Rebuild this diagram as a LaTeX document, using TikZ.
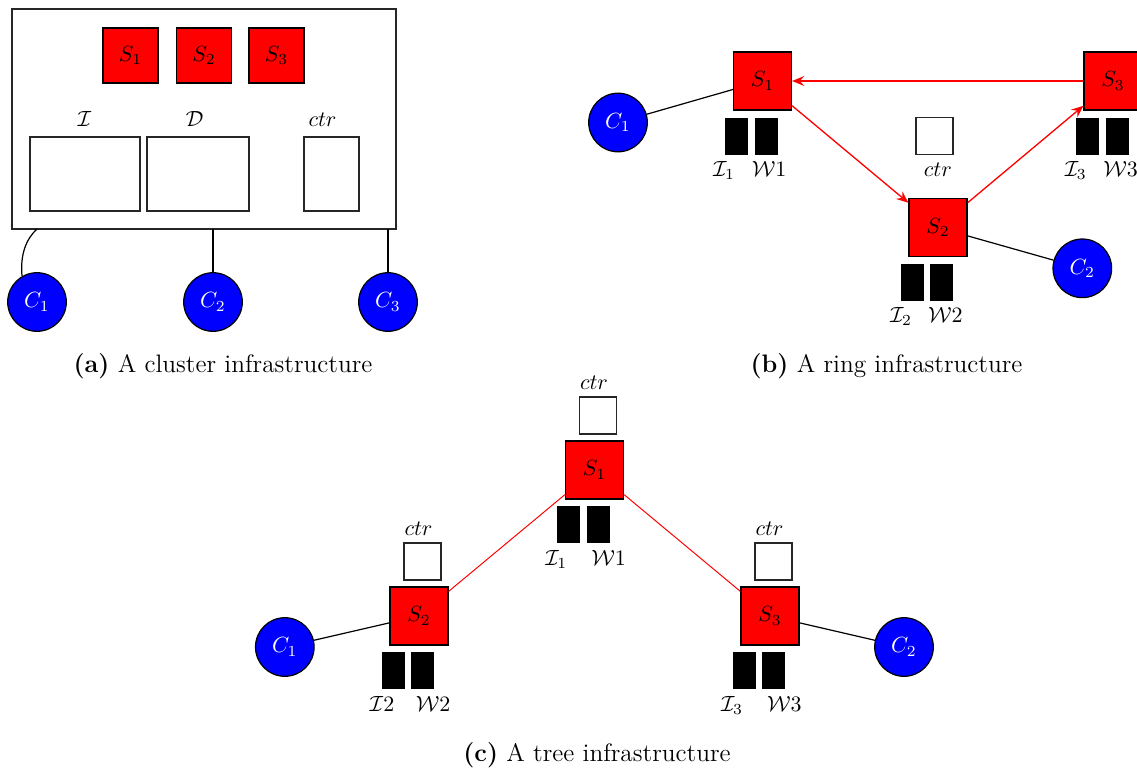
\documentclass[tikz,border=0pt]{standalone}
\usetikzlibrary{arrows.meta}
\newlength\px
\setlength\px{0.455pt}
\tikzset{
  srv/.style={draw=black, fill=red, line width=0.55pt, inner sep=0pt, minimum size=58\px},
  srva/.style={srv, minimum size=55\px},
  cli/.style={circle, draw=black, fill=blue, line width=0.55pt, inner sep=0pt, minimum size=58.6\px, text=white},
  wbox/.style={draw=black!85, fill=white, line width=0.5pt, inner sep=0pt},
  ctrbox/.style={wbox, minimum size=37\px},
  bar/.style={fill=black, inner sep=0pt, minimum width=23\px, minimum height=37\px},
  lbl/.style={anchor=base, inner sep=0pt},
  captxt/.style={anchor=base, inner sep=0pt, font=\fontsize{11.5}{13.8}\selectfont},
  bk/.style={draw=black, line width=0.55pt},
  rarr/.style={draw=red, line width=0.6pt, -{Stealth[length=5.5pt, width=4.5pt, inset=2pt]}},
  rl/.style={draw=red, line width=0.45pt}
}
\begin{document}
\begin{tikzpicture}[x=0.455pt, y=-0.455pt]
\useasboundingbox (0,0) rectangle (1137,769);

% ---------- (a) cluster ----------
\node[wbox, minimum width=384\px, minimum height=220\px] (clus) at (204,119) {};
\node[srva] (aS1) at (130.5,55.5) {$S_1$};
\node[srva] (aS2) at (204,55.5) {$S_2$};
\node[srva] (aS3) at (276.5,55.5) {$S_3$};
\node[lbl] (aIl) at (84.5,126.5) {$\mathcal{I}$};
\node[lbl] (aDl) at (194.7,126.5) {$\mathcal{D}$};
\node[lbl] (aCl) at (322.5,126.5) {$ctr$};
\node[wbox, minimum width=110\px, minimum height=74\px] (aI) at (85,174) {};
\node[wbox, minimum width=102\px, minimum height=74\px] (aD) at (198,174) {};
\node[wbox, minimum width=55\px, minimum height=74\px] (aC) at (331.5,174) {};
\node[cli] (aC1) at (37,302) {$C_1$};
\node[cli] (aC2) at (213,302) {$C_2$};
\node[cli] (aC3) at (388,302) {$C_3$};
\coordinate (aT1) at (37,229);
\coordinate (aT2) at (213,229);
\coordinate (aT3) at (388,229);
\draw[bk] (aT1) .. controls (26,239) and (20,255) .. (aC1.120);
\draw[bk] (aT2) -- (aC2);
\draw[bk] (aT3) -- (aC3);
\node[captxt] (capa) at (223,372.5) {\textbf{(a)} A cluster infrastructure};

% ---------- (b) ring ----------
\node[srv] (bS1) at (762.5,81) {$S_1$};
\node[srv] (bS2) at (938,227.5) {$S_2$};
\node[srv] (bS3) at (1113,81) {$S_3$};
\node[cli] (bC1) at (618,122.5) {$C_1$};
\node[cli] (bC2) at (1082.3,268.3) {$C_2$};
\node[bar] (bB1a) at (736.5,136) {};
\node[bar] (bB1b) at (766,136) {};
\node[bar] (bB2a) at (912,282.5) {};
\node[bar] (bB2b) at (941.5,282.5) {};
\node[bar] (bB3a) at (1087.5,136) {};
\node[bar] (bB3b) at (1117,136) {};
\node[ctrbox] (bctr) at (934.5,135.7) {};
\node[lbl] (bctrl) at (937.8,176) {$ctr$};
\node[lbl] (bI1) at (724,176) {$\mathcal{I}_1$};
\node[lbl] (bW1) at (769.2,176) {$\mathcal{W}1$};
\node[lbl] (bI2) at (901,322) {$\mathcal{I}_2$};
\node[lbl] (bW2) at (945.3,322) {$\mathcal{W}2$};
\node[lbl] (bI3) at (1075.7,176) {$\mathcal{I}_3$};
\node[lbl] (bW3) at (1120.5,176) {$\mathcal{W}3$};
\draw[bk] (bC1) -- (bS1);
\draw[bk] (bS2) -- (bC2);
\draw[rarr] (bS3) -- (bS1);
\draw[rarr] (bS1) -- (bS2);
\draw[rarr] (bS2) -- (bS3);
\node[captxt] (capb) at (886.5,372.5) {\textbf{(b)} A ring infrastructure};

% ---------- (c) tree ----------
\node[srv] (cS1) at (594.5,470) {$S_1$};
\node[srv] (cS2) at (419,616) {$S_2$};
\node[srv] (cS3) at (770,616) {$S_3$};
\node[ctrbox] (cctr1) at (598,415.5) {};
\node[ctrbox] (cctr2) at (422.5,561.5) {};
\node[ctrbox] (cctr3) at (773.5,561.5) {};
\node[lbl] (cctrl1) at (594,389) {$ctr$};
\node[lbl] (cctrl2) at (418.5,535) {$ctr$};
\node[lbl] (cctrl3) at (769.5,535) {$ctr$};
\node[bar] (cB1a) at (568.5,524.5) {};
\node[bar] (cB1b) at (598,524.5) {};
\node[bar] (cB2a) at (393,670.5) {};
\node[bar] (cB2b) at (422.5,670.5) {};
\node[bar] (cB3a) at (744,670.5) {};
\node[bar] (cB3b) at (773.5,670.5) {};
\node[lbl] (cI1) at (556.3,565.5) {$\mathcal{I}_1$};
\node[lbl] (cW1) at (608.7,565.5) {$\mathcal{W}1$};
\node[lbl] (cI2) at (382,711.7) {$\mathcal{I}2$};
\node[lbl] (cW2) at (433.2,711.7) {$\mathcal{W}2$};
\node[lbl] (cI3) at (732,711.5) {$\mathcal{I}_3$};
\node[lbl] (cW3) at (784.3,711.5) {$\mathcal{W}3$};
\node[cli] (cC1) at (284.8,647) {$C_1$};
\node[cli] (cC2) at (904,647) {$C_2$};
\draw[bk] (cC1) -- (cS2);
\draw[bk] (cS3) -- (cC2);
\draw[rl] (cS1) -- (cS2);
\draw[rl] (cS1) -- (cS3);
\node[captxt] (capc) at (597,761) {\textbf{(c)} A tree infrastructure};
\end{tikzpicture}
\end{document}
